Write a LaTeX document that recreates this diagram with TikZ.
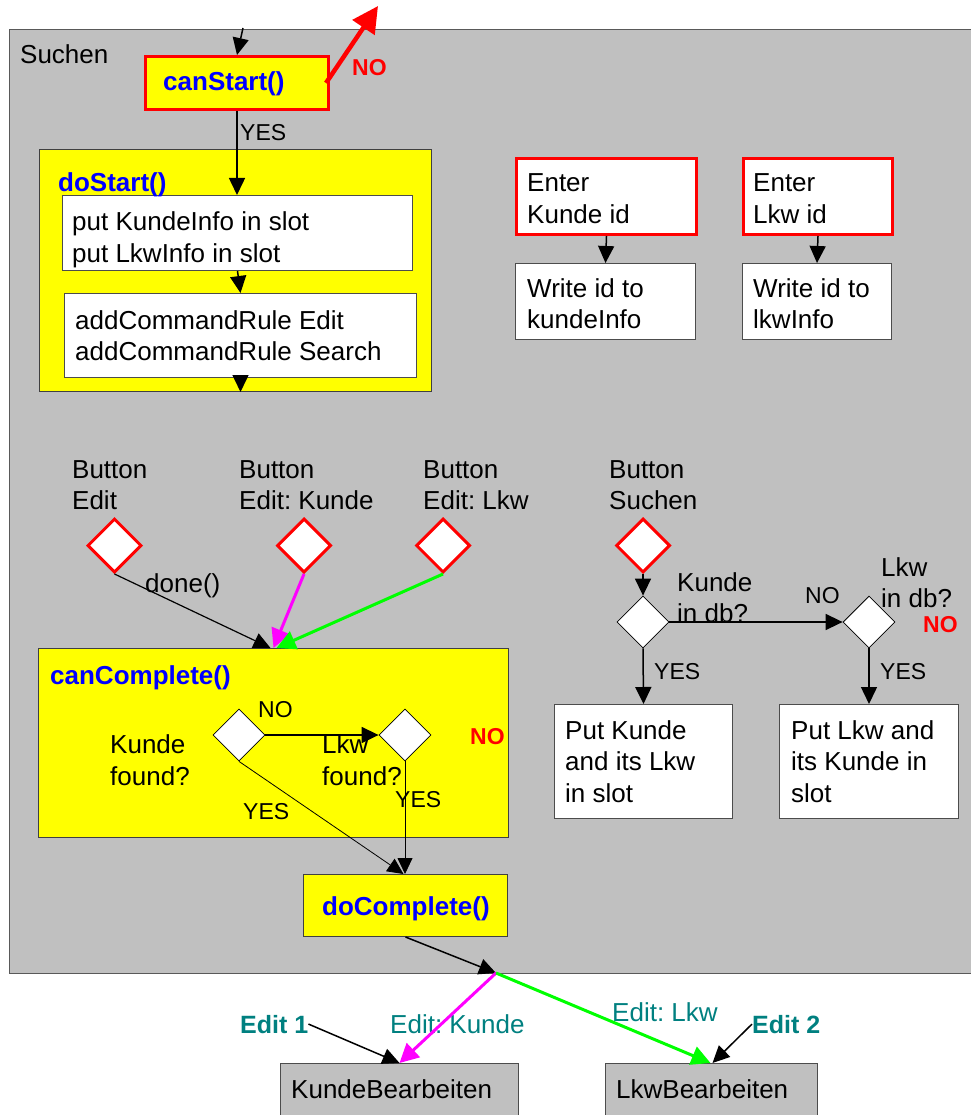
\documentclass[tikz,border=0pt]{standalone}
\usepackage{fontspec}
\setmainfont{Liberation Sans}
\usetikzlibrary{arrows.meta,shapes.geometric}
\definecolor{panelgray}{HTML}{C0C0C0}
\definecolor{hiyellow}{HTML}{FFFF00}
\definecolor{callblue}{HTML}{0000FF}
\definecolor{alertred}{HTML}{FF0000}
\definecolor{kundemag}{HTML}{FF00FF}
\definecolor{lkwgreen}{HTML}{00FF00}
\definecolor{editteal}{HTML}{008080}
% left-aligned multi-line text whose baseline is that of its first line
\newcommand\stacked[1]{\begin{tabular}[t]{@{}l@{}}#1\end{tabular}}
\frenchspacing

\begin{document}
\begin{tikzpicture}[x=1pt,y=-1pt,
  box/.style={rectangle, inner sep=0pt, anchor=north west},
  panel/.style={box, fill=panelgray, draw=black!65, line width=1.2pt},
  yellowbox/.style={box, fill=hiyellow, draw=black!75, line width=1pt},
  startbox/.style={box, fill=hiyellow, draw=alertred, line width=3pt},
  whitebox/.style={box, fill=white, draw=black!70, line width=1pt},
  inputbox/.style={box, fill=white, draw=alertred, line width=3pt},
  grayout/.style={box, fill=panelgray, draw=black!70, line width=1pt},
  button/.style={diamond, aspect=1, inner sep=0pt, minimum width=54pt, minimum height=54pt,
    fill=white, draw=alertred, line width=3pt},
  decision/.style={diamond, aspect=1, inner sep=0pt, minimum width=52pt, minimum height=52pt,
    fill=white, draw=black, line width=0.8pt},
  txt/.style={inner sep=0pt, anchor=base west, font=\fontsize{26}{31.5}\selectfont},
  smalltxt/.style={inner sep=0pt, anchor=base west, font=\fontsize{23}{27}\selectfont},
  calltxt/.style={txt, font=\fontsize{26}{31.5}\selectfont\bfseries, text=callblue},
  notxt/.style={smalltxt, font=\fontsize{23}{27}\selectfont\bfseries, text=alertred},
  edittxt/.style={txt, text=editteal},
  editbold/.style={txt, font=\fontsize{25}{30}\selectfont\bfseries, text=editteal},
  flow/.style={line width=1.5pt, -{Triangle[length=17pt,width=16pt]}},
  thinflow/.style={line width=0.8pt, -{Triangle[length=16pt,width=15pt]}},
  kundeflow/.style={draw=kundemag, line width=3pt, -{Triangle[length=19pt,width=19pt]}},
  lkwflow/.style={draw=lkwgreen, line width=3pt, -{Triangle[length=19pt,width=19pt]}},
  exitflow/.style={draw=alertred, line width=4.5pt, -{Triangle[length=26pt,width=26pt]}}
]
\useasboundingbox (0,0) rectangle (970,1115);

% ---------- the "Suchen" state ----------
\node[panel, minimum width=966pt, minimum height=944pt] (region) at (9,29) {};
\node[txt] (lsuchen) at (20,64) {Suchen};

% canStart / doStart
\node[startbox, minimum width=183pt, minimum height=53pt] (cs) at (144,55) {};
\node[yellowbox, minimum width=392pt, minimum height=242pt] (ds) at (39,149) {};
\node[whitebox, minimum width=350pt, minimum height=75pt] (p1) at (62,195) {};
\node[whitebox, minimum width=352pt, minimum height=84pt] (p2) at (64,293) {};

% id input fields
\node[inputbox, minimum width=180pt, minimum height=76pt] (ek) at (515,157) {};
\node[whitebox, minimum width=180pt, minimum height=76pt] (wk) at (515,263) {};
\node[inputbox, minimum width=149pt, minimum height=76pt] (el) at (742,157) {};
\node[whitebox, minimum width=149pt, minimum height=76pt] (wl) at (742,263) {};

% buttons
\node[button] (be) at (114.5,545.5) {};
\node[button] (bk) at (304,545.5) {};
\node[button] (bl) at (443,545.5) {};
\node[button] (bs) at (643,545.5) {};

% canComplete / doComplete
\node[yellowbox, minimum width=470pt, minimum height=189pt] (cc) at (38,648) {};
\node[decision] (d1) at (239,735) {};
\node[decision] (d2) at (405,735) {};
\node[yellowbox, minimum width=204pt, minimum height=62pt] (dc) at (303,874) {};

% search decisions
\node[decision] (w1) at (643,622) {};
\node[decision] (w2) at (869,622) {};
\node[whitebox, minimum width=178pt, minimum height=114pt] (pk) at (554,704) {};
\node[whitebox, minimum width=179pt, minimum height=114pt] (pl) at (779,704) {};

% follow-up states
\node[grayout, minimum width=238pt, minimum height=60pt] (kb) at (280,1063) {};
\node[grayout, minimum width=212pt, minimum height=60pt] (lb) at (605,1063) {};

% ---------- texts ----------
\node[calltxt] (lcs) at (163,90.5) {canStart()};
\node[notxt] (lcsno) at (352,76) {NO};
\node[smalltxt] (lcsyes) at (240,140.5) {YES};
\node[calltxt] (lds) at (58,192) {doStart()};
\node[txt] (lp1) at (72,231) {\stacked{put KundeInfo in slot\\put LkwInfo in slot}};
\node[txt] (lp2) at (75,329) {\stacked{addCommandRule Edit\\addCommandRule Search}};

\node[txt] (lek) at (527,192) {\stacked{Enter\\Kunde id}};
\node[txt] (lwk) at (527,297) {\stacked{Write id to\\kundeInfo}};
\node[txt] (lel) at (753,192) {\stacked{Enter\\Lkw id}};
\node[txt] (lwl) at (753,297) {\stacked{Write id to\\lkwInfo}};

\node[txt] (lbe) at (72,478) {\stacked{Button\\Edit}};
\node[txt] (lbk) at (239,478) {\stacked{Button\\Edit: Kunde}};
\node[txt] (lbl) at (423,478) {\stacked{Button\\Edit: Lkw}};
\node[txt] (lbs) at (609,478) {\stacked{Button\\Suchen}};
\node[txt] (ldone) at (145,592.5) {done()};

\node[calltxt] (lcc) at (50,684) {canComplete()};
\node[smalltxt] (ld1no) at (258,717.5) {NO};
\node[txt] (ld1) at (110,753.5) {\stacked{Kunde\\found?}};
\node[txt] (ld2) at (322,753.5) {\stacked{Lkw\\found?}};
\node[notxt] (lccno) at (470,744) {NO};
\node[smalltxt] (ld1yes) at (243,819) {YES};
\node[smalltxt] (ld2yes) at (395,807) {YES};
\node[calltxt] (ldc) at (322,915) {doComplete()};

\node[txt] (lw1) at (677,591) {\stacked{Kunde\\in db?}};
\node[txt] (lw2) at (881,576) {\stacked{Lkw\\in db?}};
\node[smalltxt] (lw1no) at (805,603) {NO};
\node[notxt] (lw2no) at (923,632) {NO};
\node[smalltxt] (lw1yes) at (654,679.5) {YES};
\node[smalltxt] (lw2yes) at (880,679.5) {YES};
\node[txt] (lpk) at (565,739) {\stacked{Put Kunde\\and its Lkw\\in slot}};
\node[txt] (lpl) at (791,739) {\stacked{Put Lkw and\\its Kunde in\\slot}};

\node[editbold] (e1) at (240,1033) {Edit 1};
\node[edittxt] (lek2) at (390,1033) {Edit: Kunde};
\node[edittxt] (lel2) at (612,1021.7) {Edit: Lkw};
\node[editbold] (e2) at (752,1033) {Edit 2};
\node[txt] (lkb) at (291,1098) {KundeBearbeiten};
\node[txt] (llb) at (616,1098) {LkwBearbeiten};

% ---------- connectors ----------
\coordinate (entry) at (243,28);
\coordinate (escape) at (378,6);
\coordinate (split) at (496,973);

\draw[flow] (entry) -- (cs.north);
\draw[exitflow] ([xshift=-4pt]cs.east) -- (escape);
\draw[flow] (cs.south) -- (cs.south |- p1.north);
\draw[flow] (p1.south) -- (p2.north);
\draw[flow] (p2.south) -- (p2.south |- ds.south);

\draw[flow] (ek.south) -- (wk.north);
\draw[flow] (el.south) -- (wl.north);

\draw[line width=1.2pt, -{Triangle[length=17pt,width=16pt]}] (be.south) -- ([xshift=-3pt]cc.north);
\draw[kundeflow] (bk.south) -- (cc.north);
\draw[lkwflow] (bl.south) -- ([xshift=3pt]cc.north);

\draw[flow] (d1.east) -- (d2.west);
\draw[thinflow] (d1.south) -- ([xshift=-2pt]dc.north);
\draw[thinflow] (d2.south) -- (d2.south |- dc.north);

\draw[flow] (bs.south) -- (w1.north);
\draw[flow] (w1.east) -- (w2.west);
\draw[flow] (w1.south) -- (pk.north);
\draw[flow] (w2.south) -- (pl.north);

\draw[flow] (dc.south) -- (split);
\draw[kundeflow] (split) -- (kb.north);
\draw[lkwflow] (split) -- ([xshift=-1pt]lb.north);
\draw[flow] (e1.east) -- (kb.north);
\draw[flow] (e2.west) -- ([xshift=1pt]lb.north);
\end{tikzpicture}
\end{document}
